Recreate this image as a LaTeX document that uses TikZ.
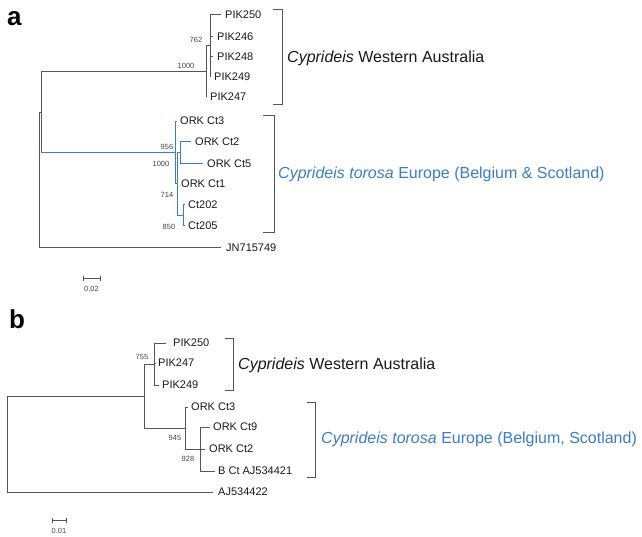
\documentclass[tikz,border=0pt]{standalone}
\usepackage{fontspec}
\setmainfont{Liberation Sans}
\definecolor{branch}{RGB}{85,85,85}
\definecolor{bluec}{RGB}{58,125,200}
\definecolor{txt}{RGB}{25,25,25}
\definecolor{boot}{RGB}{70,70,70}
\begin{document}
\begin{tikzpicture}[x=1pt,y=-1pt,
  edge/.style={draw=branch, line width=1pt},
  bedge/.style={draw=bluec, line width=1pt},
  leaf/.style={anchor=west, inner sep=0pt, font=\fontsize{11}{11}\selectfont, text=txt, text height=7.9pt, text depth=0pt},
  bs/.style={inner sep=0pt, font=\fontsize{7.5}{7.5}\selectfont, text=boot, text height=5.4pt, text depth=0pt},
  grp/.style={anchor=west, inner sep=0pt, font=\fontsize{16}{16}\selectfont, text height=11.5pt, text depth=0pt},
  brk/.style={draw=branch, line width=1pt},
  panel/.style={inner sep=0pt, font=\fontsize{26}{26}\selectfont\bfseries, text=black}
]
\useasboundingbox (0,0) rectangle (642,537);

% ---------------- panel a ----------------
\node[panel, anchor=base west] (pa) at (7,26) {a};

% internal nodes
\coordinate (aR) at (39,112.5);
\coordinate (aA) at (41,112.5);
\coordinate (aWA) at (206,72);
\coordinate (a762) at (210,46);
\coordinate (aEU) at (175,153);
\coordinate (a714) at (177,184);
\coordinate (a956) at (180,153);
\coordinate (a850) at (183,215.5);
% leaf tips
\coordinate (aJNt) at (221,248);
\coordinate (aP250t) at (221,15);
\coordinate (aP246t) at (213,37);
\coordinate (aP248t) at (213,57);
\coordinate (aP249t) at (211,77);
\coordinate (aP247t) at (207,97);
\coordinate (aC3t) at (177,122);
\coordinate (aC2t) at (191,142);
\coordinate (aC5t) at (203,164);
\coordinate (aC1t) at (178,184);
\coordinate (a202t) at (185,205);
\coordinate (a205t) at (185,226);

\draw[edge] (aR) -- (aA);
\draw[edge] (aR) |- (aJNt);
\draw[edge] (aA) |- (aWA);
\draw[edge] (aA) -- (aA |- aEU);
\draw[bedge] (aA |- aEU) -- (aEU);
\draw[edge] (aWA) |- (a762);
\draw[edge] (aWA) |- (aP247t);
\draw[edge] (a762) |- (aP250t);
\draw[edge] (a762) |- (aP246t);
\draw[edge] (a762) |- (aP248t);
\draw[edge] (a762) |- (aP249t);
\draw[bedge] (aEU) |- (aC3t);
\draw[bedge] (aEU) |- (a714);
\draw[bedge] (a714) |- (a956);
\draw[bedge] (a714) |- (aC1t);
\draw[bedge] (a714) |- (a850);
\draw[bedge] (a956) |- (aC2t);
\draw[bedge] (a956) |- (aC5t);
\draw[bedge] (a850) |- (a202t);
\draw[bedge] (a850) |- (a205t);

% leaf labels
\node[leaf] (aP250) at (225,15) {PIK250};
\node[leaf] (aP246) at (217,37) {PIK246};
\node[leaf] (aP248) at (217,57) {PIK248};
\node[leaf] (aP249) at (214,77) {PIK249};
\node[leaf] (aP247) at (210,97) {PIK247};
\node[leaf] (aC3) at (180,121) {ORK Ct3};
\node[leaf] (aC2) at (195,142) {ORK Ct2};
\node[leaf] (aC5) at (207,164) {ORK Ct5};
\node[leaf] (aC1) at (181,184) {ORK Ct1};
\node[leaf] (a202) at (188,205) {Ct202};
\node[leaf] (a205) at (188,226) {Ct205};
\node[leaf] (aJN) at (226,248) {JN715749};

% bootstrap values
\node[bs] (ab762) at (196,40) {762};
\node[bs] (ab1000a) at (186,66) {1000};
\node[bs] (ab956) at (167,147) {956};
\node[bs] (ab1000b) at (161,164) {1000};
\node[bs] (ab714) at (167,195) {714};
\node[bs] (ab850) at (169,227) {850};

% brackets and group labels
\coordinate (aW1) at (273,10);
\coordinate (aW2) at (282,10);
\coordinate (aW3) at (282,105);
\coordinate (aW4) at (273,105);
\draw[brk] (aW1) -- (aW2) -- (aW3) -- (aW4);
\node[grp, text=txt] (aWAlab) at (287,57) {\textit{Cyprideis} Western Australia};
\coordinate (aE1) at (263,116);
\coordinate (aE2) at (274,116);
\coordinate (aE3) at (274,233);
\coordinate (aE4) at (263,233);
\draw[brk] (aE1) -- (aE2) -- (aE3) -- (aE4);
\node[grp, text=bluec] (aEUlab) at (278,173) {\textit{Cyprideis torosa} Europe (Belgium \& Scotland)};

% scale bar
\coordinate (aS1) at (83,278);
\coordinate (aS2) at (100,278);
\draw[edge] (aS1) -- (aS2);
\draw[edge] ([yshift=2.5pt]aS1) -- ([yshift=-2.5pt]aS1);
\draw[edge] ([yshift=2.5pt]aS2) -- ([yshift=-2.5pt]aS2);
\node[bs] (aSl) at (91.5,289) {0.02};

% ---------------- panel b ----------------
\node[panel, anchor=base west] (pb) at (9,328) {b};

\coordinate (bR) at (7,396);
\coordinate (bB) at (144,396);
\coordinate (b755) at (154,364);
\coordinate (b945) at (185,428);
\coordinate (b928) at (200,449);
\coordinate (bAJt) at (213,492);
\coordinate (bP250t) at (166,343);
\coordinate (bP247t) at (156,363);
\coordinate (bP249t) at (159,385);
\coordinate (bC3t) at (188,407);
\coordinate (bC9t) at (210,427);
\coordinate (bC2t) at (205,449);
\coordinate (bBCt) at (215,471);

\draw[edge] (bR) -- (bB);
\draw[edge] (bR) |- (bAJt);
\draw[edge] (bB) |- (b755);
\draw[edge] (bB) |- (b945);
\draw[edge] (b755) |- (bP250t);
\draw[edge] (b755) |- (bP247t);
\draw[edge] (b755) |- (bP249t);
\draw[edge] (b945) |- (bC3t);
\draw[edge] (b945) |- (b928);
\draw[edge] (b928) |- (bC9t);
\draw[edge] (b928) |- (bC2t);
\draw[edge] (b928) |- (bBCt);

\node[leaf] (bP250) at (173,343) {PIK250};
\node[leaf] (bP247) at (158,363) {PIK247};
\node[leaf] (bP249) at (162,385) {PIK249};
\node[leaf] (bC3) at (191,407) {ORK Ct3};
\node[leaf] (bC9) at (213,427) {ORK Ct9};
\node[leaf] (bC2) at (209,449) {ORK Ct2};
\node[leaf] (bBC) at (218,471) {B Ct AJ534421};
\node[leaf] (bAJ) at (218,492) {AJ534422};

\node[bs] (bb755) at (142,357) {755};
\node[bs] (bb945) at (175,438) {945};
\node[bs] (bb928) at (188,459) {928};

\coordinate (bW1) at (225,338);
\coordinate (bW2) at (233,338);
\coordinate (bW3) at (233,390);
\coordinate (bW4) at (225,390);
\draw[brk] (bW1) -- (bW2) -- (bW3) -- (bW4);
\node[grp, text=txt] (bWAlab) at (238,364) {\textit{Cyprideis} Western Australia};
\coordinate (bE1) at (307,402);
\coordinate (bE2) at (315,402);
\coordinate (bE3) at (315,477);
\coordinate (bE4) at (307,477);
\draw[brk] (bE1) -- (bE2) -- (bE3) -- (bE4);
\node[grp, text=bluec] (bEUlab) at (321,438) {\textit{Cyprideis torosa} Europe (Belgium, Scotland)};

\coordinate (bS1) at (52,520);
\coordinate (bS2) at (66,520);
\draw[edge] (bS1) -- (bS2);
\draw[edge] ([yshift=2.5pt]bS1) -- ([yshift=-2.5pt]bS1);
\draw[edge] ([yshift=2.5pt]bS2) -- ([yshift=-2.5pt]bS2);
\node[bs] (bSl) at (59,531) {0.01};
\end{tikzpicture}
\end{document}
